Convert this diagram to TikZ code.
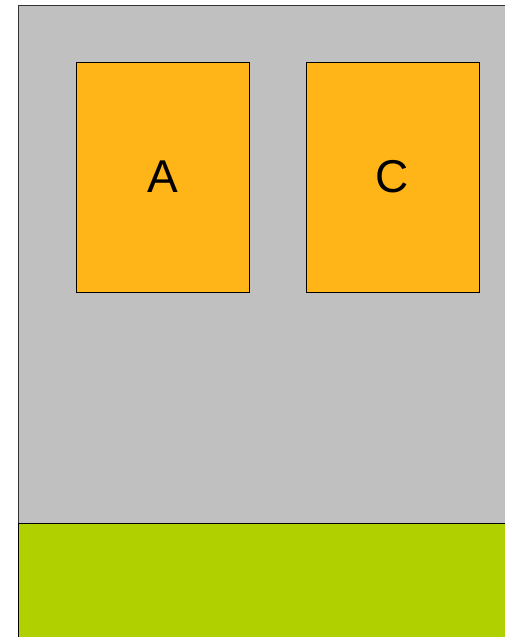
\documentclass[tikz,border=0pt]{standalone}
\usepackage{fontspec}
\setmainfont{Liberation Sans}
\usepackage{tikz}
\usetikzlibrary{positioning}
\definecolor{zoneGray}{HTML}{C0C0C0}
\definecolor{zoneGreen}{HTML}{B0D000}
\definecolor{boxAmber}{HTML}{FFB418}
\tikzset{
  zone/.style={draw=black!80, line width=1pt, inner sep=0pt, anchor=north west},
  zonegray/.style={zone, fill=zoneGray},
  zonegreen/.style={zone, fill=zoneGreen, draw=black},
  letterbox/.style={draw=black, line width=1pt, fill=boxAmber, inner sep=0pt,
    minimum width=173pt, minimum height=230pt, font=\fontsize{46}{50}\selectfont}
}
\begin{document}
\begin{tikzpicture}[x=1pt, y=-1pt]
    \useasboundingbox (0,0) rectangle (505,637);
    \clip (0,0) rectangle (505,637);
    \node[zonegray, minimum width=520pt, minimum height=519pt] (upper) at (18,4.5) {};
    \node[zonegreen, minimum width=520pt, minimum height=130pt] (lower) at (18,523) {};
    \node[letterbox] (boxA) at (162.5,177) {A};
    \node[letterbox, right=56pt of boxA] (boxC) {C};
  \end{tikzpicture}
\end{document}
